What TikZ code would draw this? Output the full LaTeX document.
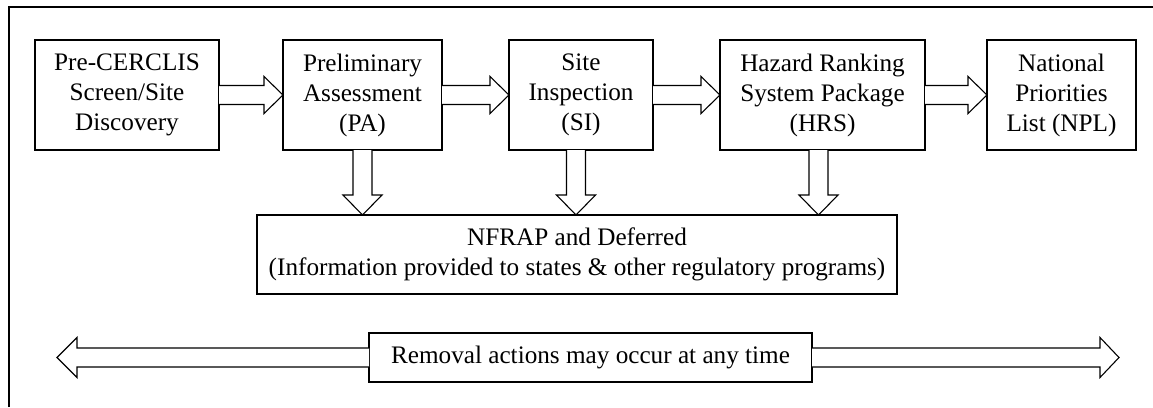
\documentclass[tikz,border=0pt]{standalone}
\usepackage{fontspec}
\setmainfont{Liberation Serif}
\usetikzlibrary{calc,positioning}

\begin{document}
\begin{tikzpicture}[x=1pt,y=-1pt,
    stagebox/.style={draw, line width=1.1pt, align=center, inner sep=0pt, outer sep=0pt,
      minimum height=110pt, font=\fontsize{25.2}{30}\selectfont},
    widebox/.style={draw, line width=1.1pt, align=center, inner sep=0pt, outer sep=0pt,
      font=\fontsize{25.2}{30}\selectfont},
    blockarrow/.style={draw, fill=white, line width=1.1pt, line join=miter}]
      \useasboundingbox (0,0) rectangle (1153,407);
      % frame, only top and left edges show
      \draw[line width=2pt] (8.5,407) -- (8.5,7) -- (1153,7);

      \begin{scope}[every node/.style={stagebox}]
        \node (disc) [minimum width=184pt] at (127,95) {Pre-CERCLIS\\Screen/Site\\Discovery};
        \node (pa) [minimum width=159pt, right=64pt of disc] {Preliminary\\Assessment\\(PA)};
        \node (si) [minimum width=144pt, right=67pt of pa] {Site\\Inspection\\(SI)};
        \node (hrs) [minimum width=205pt, right=67pt of si] {Hazard Ranking\\System Package\\(HRS)};
        \node (npl) [minimum width=149pt, right=62pt of hrs] {National\\Priorities\\List (NPL)};
      \end{scope}

      \node (nfrap) [widebox, minimum width=640pt, minimum height=79pt] at (577,254.5)
        {NFRAP and Deferred\\(Information provided to states \& other regulatory programs)};
      \node (removal) [widebox, minimum width=443pt, minimum height=49pt] at (590.5,357.5)
        {Removal actions may occur at any time};
      \coordinate (lefttip) at (57,357.5);
      \coordinate (righttip) at (1119,357.5);

      % arrows along the top row
      \foreach \a/\b in {disc/pa, pa/si, si/hrs, hrs/npl}
        \draw[blockarrow] ($(\a.east)+(0,-9.5)$) -- ($(\b.west)+(-19,-9.5)$) -- ++(0,-9)
          -- (\b.west) -- ++(-19,18.5) -- ++(0,-9) -- ($(\a.east)+(0,9.5)$);

      % arrows down to NFRAP
      \foreach \a/\s in {pa/0, si/-5, hrs/-4}
        \draw[blockarrow] ($(\a.south)+(\s-9.5,0)$) -- ($(\a.south |- nfrap.north)+(\s-9.5,-20)$)
          -- ++(-10,0) -- ($(\a.south |- nfrap.north)+(\s,0)$) -- ++(19.5,-20) -- ++(-10,0)
          -- ($(\a.south)+(\s+9.5,0)$);

      % removal arrow both ways
      \draw[blockarrow] ($(removal.west)+(0,-9.5)$) -- ($(lefttip)+(20,-9.5)$) -- ++(0,-10.5)
        -- (lefttip) -- ++(20,20) -- ++(0,-10.5) -- ($(removal.west)+(0,9.5)$);
      \draw[blockarrow] ($(removal.east)+(0,-9.5)$) -- ($(righttip)+(-19,-9.5)$) -- ++(0,-10.5)
        -- (righttip) -- ++(-19,20) -- ++(0,-10.5) -- ($(removal.east)+(0,9.5)$);
    \end{tikzpicture}
\end{document}
